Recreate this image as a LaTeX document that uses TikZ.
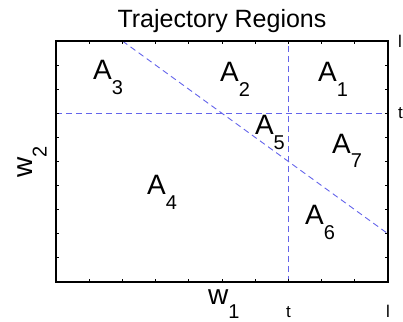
\documentclass[tikz,border=0pt]{standalone}
\usepackage{fontspec}
\setmainfont{Liberation Sans}
\definecolor{bndblue}{RGB}{100,100,235}
\newcommand{\regsub}[2]{#1\raisebox{-14.5pt}{\fontsize{20}{20}\selectfont #2}}

\begin{document}
\begin{tikzpicture}[x=332pt,y=241pt,
  lbl/.style={inner sep=0pt,anchor=base west,font=\fontsize{28}{30}\selectfont},
  edge/.style={inner sep=0pt,font=\fontsize{17}{19}\selectfont},
  bnd/.style={bndblue,line width=0.9pt,dash pattern=on 6pt off 4pt}]
  \useasboundingbox (-0.1687,-0.166) rectangle (1.0452,1.1701);
  % region boundaries
  \coordinate (tb) at (0.7,0);
  \coordinate (tt) at (0.7,1);
  \coordinate (tl) at (0,0.7012);
  \coordinate (tr) at (1,0.7012);
  \coordinate (d1) at (0.2,1);
  \coordinate (d2) at (1,0.2);
  \draw[bnd] (tb) -- (tt);
  \draw[bnd] (tl) -- (tr);
  \draw[bnd] (d1) -- (d2);
  % axes box and ticks
  \draw[line width=1.2pt] (0,0) rectangle (1,1);
  \foreach \k in {1,...,9} {
    \draw[line width=0.8pt] (\k/10,0) -- ++(0,0.0125);
    \draw[line width=0.8pt] (\k/10,1) -- ++(0,-0.0125);
    \draw[line width=0.8pt] (0,\k/10) -- ++(0.009,0);
    \draw[line width=0.8pt] (1,\k/10) -- ++(-0.009,0);
  }
  \node[font=\fontsize{25}{27}\selectfont,anchor=base] (title) at (0.5,1.058) {Trajectory Regions};
  % region labels
  \node[lbl] (a3) at (0.1114,0.8382) {\regsub{A}{3}};
  \node[lbl] (a2) at (0.494,0.830) {\regsub{A}{2}};
  \node[lbl] (a1) at (0.789,0.830) {\regsub{A}{1}};
  \node[lbl] (a5) at (0.599,0.610) {\regsub{A}{5}};
  \node[lbl] (a7) at (0.831,0.535) {\regsub{A}{7}};
  \node[lbl] (a4) at (0.274,0.361) {\regsub{A}{4}};
  \node[lbl] (a6) at (0.750,0.2365) {\regsub{A}{6}};
  % axis labels
  \node[lbl] (w1) at (0.4578,-0.0925) {\regsub{w}{1}};
  \node[lbl,rotate=90] (w2) at (-0.0723,0.4315) {\regsub{w}{2}};
  \node[edge,anchor=base] (tx) at (0.7,-0.149) {t};
  \node[edge,anchor=base] (lx) at (1,-0.149) {l};
  \node[edge,anchor=west] (ly) at (1.030,1) {l};
  \node[edge,anchor=west] (ty) at (1.030,0.7) {t};
\end{tikzpicture}
\end{document}
